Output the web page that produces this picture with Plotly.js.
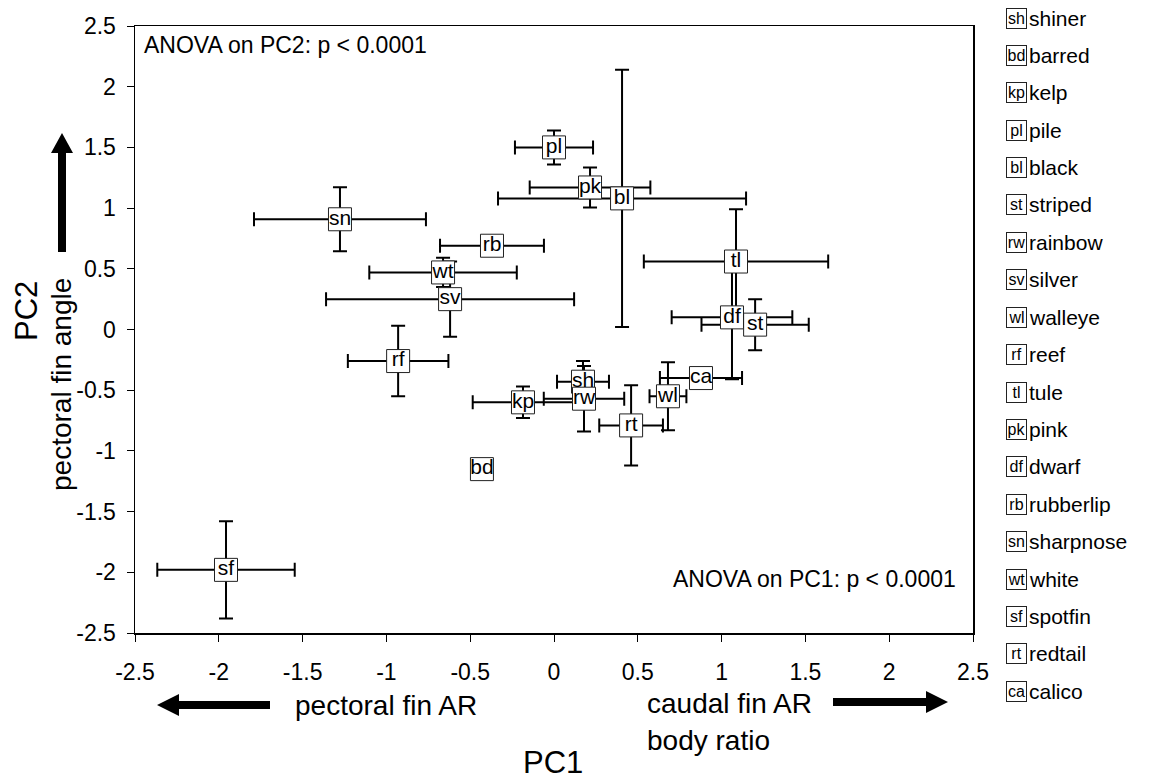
<!DOCTYPE html>
<html>
<head>
<meta charset="utf-8">
<script src="https://cdn.plot.ly/plotly-3.0.1.min.js"></script>
<style>html,body{margin:0;padding:0;background:#fff;}#chart{width:1152px;height:782px;}</style>
</head>
<body>
<div id="chart"></div>
<script>
// ---- data ----
const abbrevs = ["sh","bd","kp","pl","bl","st","rw","sv","wl","rf","tl","pk","df","rb","sn","wt","sf","rt","ca"];
const species = ["shiner","barred","kelp","pile","black","striped","rainbow","silver","walleye","reef","tule","pink","dwarf","rubberlip","sharpnose","white","spotfin","redtail","calico"];
const pc1 = [0.173,-0.43,-0.185,0.0,0.406,1.20,0.179,-0.62,0.68,-0.93,1.086,0.215,1.062,-0.37,-1.277,-0.662,-1.957,0.46,0.877];
const pc2 = [-0.43,-1.15,-0.60,1.50,1.08,0.04,-0.57,0.25,-0.55,-0.26,0.56,1.17,0.10,0.69,0.908,0.47,-1.98,-0.79,-0.40];
const pc1Err = [0.155,0,0.30,0.233,0.74,0.32,0.24,0.74,0.11,0.30,0.55,0.36,0.36,0.31,0.513,0.44,0.41,0.19,0.245];
const pc2Err = [0.17,0,0.13,0.14,1.06,0.21,0.27,0.31,0.28,0.29,0.43,0.165,0.51,0,0.264,0.12,0.40,0.33,0.05];
const tickVals = [-2.5,-2,-1.5,-1,-0.5,0,0.5,1,1.5,2,2.5];
const tickText = ["-2.5","-2","-1.5","-1","-0.5","0","0.5","1","1.5","2","2.5"];

const FONT = "Liberation Sans, Arial, sans-serif";
const M = {l:135, r:179, t:26, b:149};
const PW = 1152 - M.l - M.r, PH = 782 - M.t - M.b;
const px = x => (x - M.l) / PW;
const py = y => (782 - M.b - y) / PH;

const traces = [
  {
    x: pc1, y: pc2, type: 'scatter', mode: 'markers',
    marker: {size: 2, color: 'rgba(0,0,0,0)'},
    error_x: {type: 'data', array: pc1Err, visible: true, color: '#000', thickness: 2, width: 7},
    error_y: {type: 'data', array: pc2Err, visible: true, color: '#000', thickness: 2, width: 7},
    hoverinfo: 'skip', showlegend: false
  },
  {
    x: pc1, y: pc2, type: 'scatter', mode: 'markers+text',
    text: abbrevs, textposition: 'middle center',
    textfont: {family: FONT, size: 21, color: '#000'},
    marker: {symbol: 'square', size: 23, color: '#fff', line: {color: '#222', width: 1}},
    cliponaxis: false, hoverinfo: 'skip', showlegend: false
  }
];

function arrowPath(pts){
  return 'M ' + pts.map(p => px(p[0]) + ',' + py(p[1])).join(' L ') + ' Z';
}
const shapes = [
  {type:'path', xref:'paper', yref:'paper', fillcolor:'#000', line:{width:0},
   path: arrowPath([[58,252],[58,153],[51,153],[62,133],[73,153],[66,153],[66,252]])},
  {type:'path', xref:'paper', yref:'paper', fillcolor:'#000', line:{width:0},
   path: arrowPath([[270,701],[179,701],[179,694],[157,705],[179,716],[179,709],[270,709]])},
  {type:'path', xref:'paper', yref:'paper', fillcolor:'#000', line:{width:0},
   path: arrowPath([[833,698],[926,698],[926,691],[948,702],[926,713],[926,706],[833,706]])}
];

const annotations = [
  {text:'PC2', x:px(26), y:py(311), textangle:-90, font:{family:FONT,size:31,color:'#000'}},
  {text:'pectoral fin angle', x:px(61), y:py(385), textangle:-90, font:{family:FONT,size:28,color:'#000'}},
  {text:'pectoral fin AR', x:px(293), y:py(705), xanchor:'left', font:{family:FONT,size:28,color:'#000'}},
  {text:'caudal fin AR', x:px(645), y:py(703), xanchor:'left', font:{family:FONT,size:28,color:'#000'}},
  {text:'body ratio', x:px(645), y:py(740), xanchor:'left', font:{family:FONT,size:28,color:'#000'}},
  {text:'PC1', x:px(553), y:py(763), font:{family:FONT,size:31,color:'#000'}},
  {text:'ANOVA on PC2: p < 0.0001', x:px(142), y:py(45), xanchor:'left', font:{family:FONT,size:23,color:'#000'}},
  {text:'ANOVA on PC1: p < 0.0001', x:px(958), y:py(579), xanchor:'right', font:{family:FONT,size:23,color:'#000'}}
].map(a => Object.assign({xref:'paper', yref:'paper', showarrow:false, yanchor:'middle', xanchor: a.xanchor || 'center'}, a));

species.forEach((name, i) => {
  const yc = 18 + i * 37.4;
  annotations.push({xref:'paper', yref:'paper', showarrow:false, x:px(1016), y:py(yc),
    xanchor:'center', yanchor:'middle', text: abbrevs[i], width:19, height:19,
    bordercolor:'#222', borderwidth:1, borderpad:0, bgcolor:'#fff',
    font:{family:FONT, size:16, color:'#000'}});
  annotations.push({xref:'paper', yref:'paper', showarrow:false, x:px(1027), y:py(yc),
    xanchor:'left', yanchor:'middle', text: name,
    font:{family:FONT, size:21, color:'#000'}});
});

const axisCommon = {
  range: [-2.5, 2.5], tickmode: 'array', tickvals: tickVals, ticktext: tickText,
  ticks: 'outside', ticklen: 7, tickwidth: 1, tickcolor: '#000',
  showline: true, linecolor: '#000', linewidth: 1.5, mirror: true,
  showgrid: false, zeroline: false,
  tickfont: {family: FONT, size: 23, color: '#000'}
};

const layout = {
  width: 1152, height: 782,
  margin: M,
  paper_bgcolor: '#fff', plot_bgcolor: '#fff',
  showlegend: false, hovermode: false,
  xaxis: Object.assign({}, axisCommon, {ticklabelstandoff: 11}),
  yaxis: Object.assign({}, axisCommon, {ticklabelstandoff: 6}),
  shapes: shapes, annotations: annotations
};

Plotly.newPlot('chart', traces, layout, {displayModeBar: false, staticPlot: true});
</script>
</body>
</html>
